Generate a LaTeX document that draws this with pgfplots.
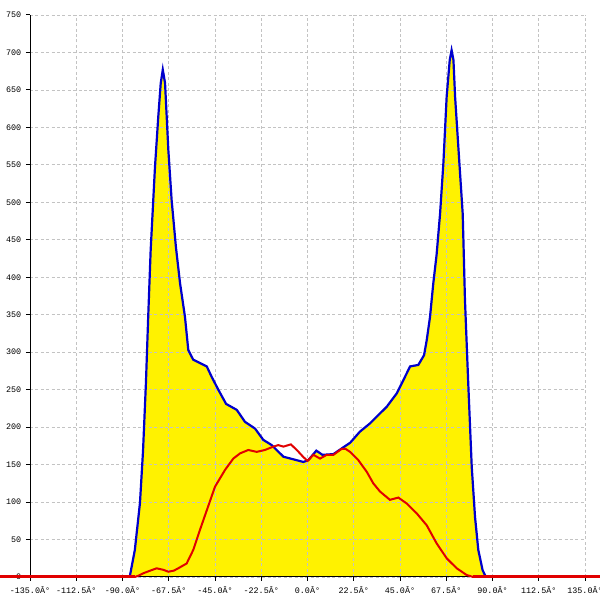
\documentclass[border=0pt]{standalone}
\usepackage{fontspec}
\setmainfont{Liberation Mono}
\usepackage{pgfplots}
\pgfplotsset{compat=1.18}
\definecolor{cblue}{RGB}{0,0,205}
\definecolor{cred}{RGB}{225,0,0}
\definecolor{cgrid}{RGB}{195,195,195}
\begin{document}
\begin{tikzpicture}
\begin{axis}[
  set layers,
  scale only axis, width=277.5pt, height=281pt,
  at={(15pt,11.5pt)}, anchor=south west,
  xmin=-135, xmax=135, ymin=0, ymax=750,
  axis x line=bottom, axis y line=left,
  axis line style={-, black, line width=0.5pt},
  xtick={-135,-112.5,-90,-67.5,-45,-22.5,0,22.5,45,67.5,90,112.5,135},
  xticklabels={-135.0Â°,-112.5Â°,-90.0Â°,-67.5Â°,-45.0Â°,-22.5Â°,0.0Â°,22.5Â°,45.0Â°,67.5Â°,90.0Â°,112.5Â°,135.0Â°},
  ytick={0,50,...,750},
  tick align=outside, major tick length=2pt,
  tick style={black, line width=0.5pt},
  grid=major,
  grid style={cgrid, line width=0.4pt, dash pattern=on 1.5pt off 1.2pt},
  ticklabel style={font=\fontsize{4.2}{5}\selectfont},
  yticklabel style={xshift=1.1pt},
  xticklabel style={yshift=0.6pt},
  /pgf/number format/assume math mode=true,
  clip=false,
]
\addplot[on layer=axis background, fill=yellow, draw=none] coordinates {
(-86.5,0) (-84,36) (-81.5,99) (-80,169) (-78.6,259) (-77.5,347) (-76.3,436)
(-74.2,547) (-72.6,614) (-71.4,659) (-70.4,677) (-69.3,659) (-67.7,570)
(-66.1,503) (-64.0,440) (-62.0,392) (-59.6,347) (-58.0,303) (-55.6,290)
(-49.0,281) (-46.6,267) (-43.4,250) (-39.6,231) (-34.4,223) (-30.4,207)
(-25.5,198) (-21.5,183) (-17.4,176) (-11.7,160.5) (-6.8,157) (-2.0,153.5)
(0.4,156) (4.3,168.6) (7.3,163) (12.6,164) (17.4,173) (20.7,179) (25.5,194)
(30.4,205) (34.4,216) (38.5,227) (43.4,245) (47.4,267) (49.9,281) (53.9,283)
(56.7,296) (58.0,316) (59.6,347) (61.2,392) (62.8,430) (64.5,485) (66.1,552)
(67.7,641) (69.2,690) (70.1,703) (71.0,690) (71.8,641) (73.9,552) (75.5,485)
(76.1,423) (76.6,370) (78.2,258.5) (79.9,147) (81.5,80) (83.1,36) (85.2,9)
(86.8,0)
} \closedcycle;
\addplot[cblue, line width=1.1pt] coordinates {
(-86.5,0) (-84,36) (-81.5,99) (-80,169) (-78.6,259) (-77.5,347) (-76.3,436)
(-74.2,547) (-72.6,614) (-71.4,659) (-70.4,677) (-69.3,659) (-67.7,570)
(-66.1,503) (-64.0,440) (-62.0,392) (-59.6,347) (-58.0,303) (-55.6,290)
(-49.0,281) (-46.6,267) (-43.4,250) (-39.6,231) (-34.4,223) (-30.4,207)
(-25.5,198) (-21.5,183) (-17.4,176) (-11.7,160.5) (-6.8,157) (-2.0,153.5)
(0.4,156) (4.3,168.6) (7.3,163) (12.6,164) (17.4,173) (20.7,179) (25.5,194)
(30.4,205) (34.4,216) (38.5,227) (43.4,245) (47.4,267) (49.9,281) (53.9,283)
(56.7,296) (58.0,316) (59.6,347) (61.2,392) (62.8,430) (64.5,485) (66.1,552)
(67.7,641) (69.2,690) (70.1,703) (71.0,690) (71.8,641) (73.9,552) (75.5,485)
(76.1,423) (76.6,370) (78.2,258.5) (79.9,147) (81.5,80) (83.1,36) (85.2,9)
(86.8,0)
};
\addplot[cred, line width=1pt] coordinates {
(-149.6,0) (-84,0) (-82,2) (-79.9,5) (-76,9) (-73.4,11.6) (-70,9.5) (-67.7,7)
(-65,8.5) (-62.9,11.6) (-58.8,18) (-55.6,36) (-52.3,63) (-49.0,89) (-45.0,120.5)
(-40.1,143) (-36.1,158) (-32.8,165) (-28.8,169.5) (-24.7,167) (-20.7,169.5)
(-16.6,174) (-14.2,176) (-11.7,174) (-8.1,177) (-5.2,169.5) (-2.0,160) (0.0,155)
(2.9,163) (6.1,158) (9.3,163) (12.6,163) (16.6,171) (18.5,171) (20.7,167)
(24.7,156) (28.8,140.5) (32.0,125) (35.3,114) (40.1,103) (44.2,106) (48.3,98)
(53.1,85) (58.0,69) (62.8,45) (67.7,25) (72.6,11.6) (77.4,2.7) (80.6,0) (142.3,0)
};
\addplot[cred, line width=1.5pt] coordinates {(-149.6,0) (-84,0)};
\addplot[cred, line width=1.5pt] coordinates {(80.6,0) (142.3,0)};
\end{axis}
\pgfresetboundingbox
\useasboundingbox (0,0) rectangle (300pt,300pt);
\end{tikzpicture}
\end{document}
